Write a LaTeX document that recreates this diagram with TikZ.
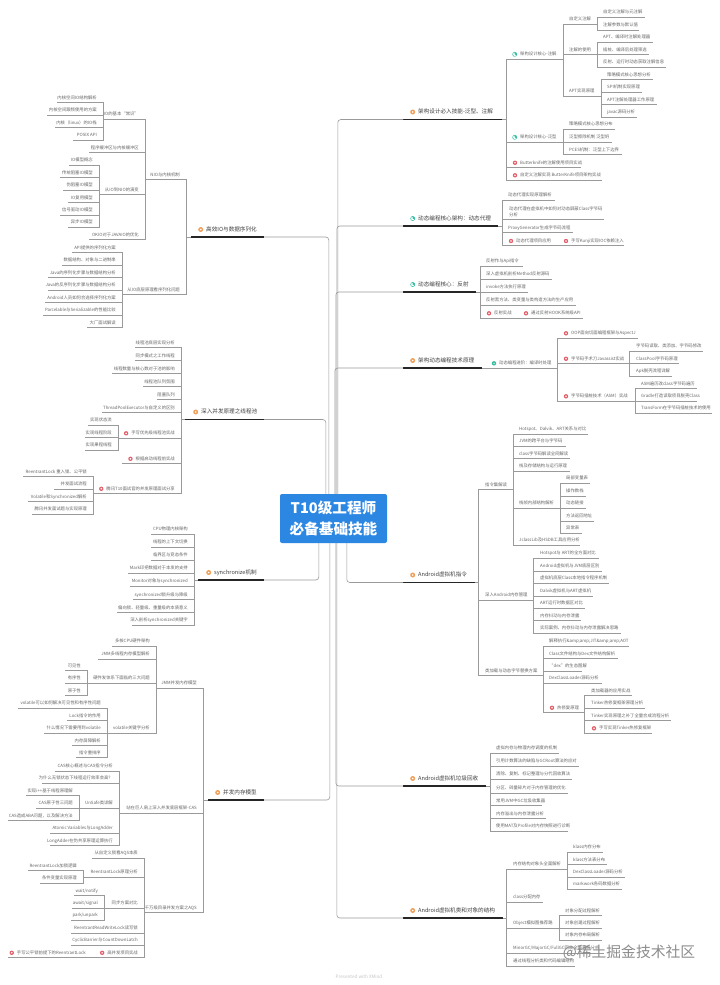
\documentclass[tikz,border=0pt]{standalone}
\usepackage{fontspec}
\setmainfont{Noto Sans CJK SC}
\definecolor{txtgray}{HTML}{666666}
\definecolor{lngray}{HTML}{9A9A9A}
\definecolor{icored}{HTML}{E2606A}
\definecolor{icoorange}{HTML}{F0A05A}
\definecolor{icoteal}{HTML}{35BFA0}
\definecolor{rootblue}{HTML}{2C87E3}
\tikzset{
  ln/.style={draw=lngray,line width=0.55pt},
  thickln/.style={draw=black!85,line width=1.3pt},
  trunk/.style={draw=lngray,line width=0.6pt,rounded corners=3pt},
  txt/.style={inner sep=0pt,text=txtgray,font=\fontsize{4.35}{5.2}\selectfont,text height=3.9pt,text depth=0.9pt},
  txtwrap/.style={inner sep=0pt,text=txtgray,font=\fontsize{4.35}{5.6}\selectfont,align=left},
  maintxt/.style={inner sep=0pt,text=black!75,font=\fontsize{5.6}{6.5}\selectfont,text height=4.9pt,text depth=1.1pt},
  rootbox/.style={fill=rootblue,rounded corners=2pt,minimum width=107pt,minimum height=49pt,inner sep=0pt,text=white,align=center,font=\fontsize{14.6}{21}\selectfont\bfseries},
}
% main branch: name, text x, thick start, thick end, spine x, y, text
\newcommand\MainN[7]{%
  \coordinate (#1a) at (#3,#6);\coordinate (#1t) at (#4,#6);\coordinate (#1b) at (#5,#6);
  \draw[ln] (#1a)--(#1b);\draw[thickln] (#1a)--(#1t);
  \node[maintxt,anchor=west] (#1) at (#2,#6-7.5) {#7};}
% right child: [text offset] name, parent, line end, y, text
\newcommand\RC[6][6]{%
  \coordinate (#2a) at (#3b |- 0,#5);\coordinate (#2b) at (#4,#5);
  \draw[ln] (#3b)--(#2a)--(#2b);
  \node[txt,anchor=west,xshift=#1pt,yshift=4.7pt] (#2) at (#2a) {#6};}
% left child
\newcommand\LC[5]{%
  \coordinate (#1a) at (#2b |- 0,#4);\coordinate (#1b) at (#3,#4);
  \draw[ln] (#2b)--(#1a)--(#1b);
  \node[txt,anchor=east,xshift=-6pt,yshift=4.7pt] (#1) at (#1a) {#5};}
\newcommand\IcoRed[1]{\fill[icored] ([xshift=-5pt]#1.west) circle (2.2pt);\fill[white] ([xshift=-5pt]#1.west) circle (0.9pt);}
\newcommand\IcoOrange[1]{\fill[icoorange] ([xshift=-5.3pt]#1.west) circle (2.5pt);\fill[white] ([xshift=-5.3pt]#1.west) circle (0.9pt);}
\newcommand\IcoTeal[1]{\draw[icoteal,line width=0.5pt,fill=white] ([xshift=-5.3pt]#1.west) circle (2.1pt);\fill[icoteal] ([xshift=-5.3pt]#1.west) -- ++(0pt,2.1pt) arc (90:-30:2.1pt) -- cycle;}
\newcommand\IcoGreen[1]{\fill[icoteal] ([xshift=-5pt]#1.west) circle (2.2pt);\fill[white] ([xshift=-5pt]#1.west) circle (0.7pt);}
\begin{document}
\begin{tikzpicture}[x=1pt,y=-1pt]
\useasboundingbox (0,0) rectangle (720,985);
\fill[white] (0,0) rectangle (720,985);
\node[rootbox] (root) at (333.5,518.5) {T10级工程师\\必备基础技能};

% ---------- right 1
\MainN{ma}{418}{403}{502}{506}{119.5}{架构设计必入技能-泛型、注解}\IcoOrange{ma}
\RC[14]{a1}{ma}{563}{59}{架构设计核心-注解}\IcoTeal{a1}
\RC{a11}{a1}{597}{24}{自定义注解}
\RC{a111}{a11}{645}{17}{自定义注解与元注解}
\RC{a112}{a11}{639}{30}{注解参数与默认值}
\RC{a12}{a1}{597}{54.5}{注解的使用}
\RC{a121}{a12}{653}{42}{APT、编译时注解处理器}
\RC{a122}{a12}{649}{54.5}{插桩、编译后处理筛选}
\RC{a123}{a12}{666}{67}{反射、运行时动态获取注解信息}
\RC{a13}{a1}{601}{96}{APT实现原理}
\RC{a131}{a13}{653}{79.5}{策略模式核心思想分析}
\RC{a132}{a13}{642}{92}{SPI机制实现原理}
\RC{a133}{a13}{657}{104.5}{APT注解处理器工作原理}
\RC{a134}{a13}{637}{117}{javac源码分析}
\RC[14]{a2}{ma}{563}{142}{架构设计核心-泛型}\IcoTeal{a2}
\RC{a21}{a2}{615}{129}{策略模式核心思想分布}
\RC{a22}{a2}{612}{142}{泛型擦除机制 泛型坍}
\RC{a23}{a2}{622}{154.5}{PCES机制：泛型上下边界}
\RC[14]{a3}{ma}{581}{167.5}{Butterknife的注解使用项目实战}\IcoRed{a3}
\RC[14]{a4}{ma}{602}{180}{自定义注解实现 ButterKnife项目架构实战}\IcoRed{a4}

% ---------- right 2
\MainN{mb}{418}{403}{498}{502}{226}{动态编程核心架构：动态代理}\IcoTeal{mb}
\RC{b1}{mb}{555}{200}{动态代理实现原理解析}
\coordinate (b2a) at (mbb |- 0,219);\coordinate (b2b) at (604,219);
\draw[ln] (mbb)--(b2a)--(b2b);
\node[txtwrap,anchor=south west,xshift=7pt,yshift=2pt] (b2) at (b2a) {动态代理在虚拟机中如何对动态屏蔽Class字节码\\分析};
\RC{b3}{mb}{573}{232.5}{ProxyGenerator生成字节码流程}
\RC[14]{b4}{mb}{557}{245.7}{动态代理项目应用}\IcoRed{b4}
\RC[14]{b5}{b4}{624}{245.7}{手写Kunji实现IOC依赖注入}\IcoRed{b5}

% ---------- right 3
\MainN{mc}{418}{403}{476}{480}{292}{动态编程核心：反射}\IcoTeal{mc}
\RC{c1}{mc}{523}{266}{反射作与Api指令}
\RC{c2}{mc}{552}{279}{深入虚拟机剖析Method反射源码}
\RC{c3}{mc}{528}{292}{invoke方法执行原理}
\RC{c4}{mc}{576}{305}{反射黑方法、类变量与类构造方法的生产应用}
\RC[14]{c5}{mc}{517}{318}{反射实战}\IcoRed{c5}
\RC[14]{c6}{c5}{583}{318}{通过反射HOOK系统级API}\IcoRed{c6}

% ---------- right 4
\MainN{md}{418}{403}{482}{482}{368}{架构动态编程技术原理}\IcoOrange{md}
\RC[17]{d1}{md}{557}{368}{动态编程进阶：编译时处理}\IcoGreen{d1}
\RC[14]{d11}{d1}{638}{338}{OOP面向切面编程框架与AspectJ}\IcoRed{d11}
\RC[14]{d12}{d1}{629}{363.5}{字节码手术刀Javassist实战}\IcoRed{d12}
\RC[7]{d121}{d12}{703}{351}{字节码读取、类添加、字节码修改}
\RC[7]{d122}{d12}{679}{363.5}{ClassPool字节码原理}
\RC[7]{d123}{d12}{672}{376}{Apk脱壳流程详解}
\RC[14]{d13}{d1}{635}{401}{字节码插桩技术（ASM）实战}\IcoRed{d13}
\RC{d131}{d13}{697}{388.5}{ASM遍历改class字节码遍历}
\RC{d132}{d13}{697}{401}{Gradle打造读取项目脱壳Class}
\RC{d133}{d13}{712}{413}{TransForm在字节码插桩技术的使用}

% ---------- right 5
\MainN{me}{418}{403}{475}{478}{582.5}{Android虚拟机指令}\IcoOrange{me}
\RC[7]{e1}{me}{513}{489.5}{指令集解读}
\RC{e11}{e1}{588}{434}{Hotspot、Dalvik、ART关系与对比}
\RC{e12}{e1}{566}{446}{JVM的跨平台与字节码}
\RC{e13}{e1}{570}{458.5}{class字节码解读全网解读}
\RC{e14}{e1}{570}{471}{栈及存储结构与运行原理}
\RC{e15}{e1}{560}{508}{栈帧内部结构解析}
\RC{e151}{e15}{590}{483}{局部变量表}
\RC{e152}{e15}{586}{496}{操作数栈}
\RC{e153}{e15}{586}{508}{动态链接}
\RC{e154}{e15}{594}{521}{方法返回地址}
\RC{e155}{e15}{582}{533}{异常表}
\RC{e16}{e1}{580}{545}{JclassLib及HSDB工具应用分析}
\RC[7]{e2}{me}{533}{600}{深入Android内存管理}
\RC[7]{e21}{e2}{599}{558}{Hotspot与 ART的全方面对比}
\RC[7]{e22}{e2}{602}{571}{Android虚拟机与JVM底层区别}
\RC[7]{e23}{e2}{609}{583}{虚拟机底层Class本地指令程序机制}
\RC[7]{e24}{e2}{593}{596}{Dalvik虚拟机与ART虚拟机}
\RC[7]{e25}{e2}{585}{608}{ART运行时数据区对比}
\RC[7]{e26}{e2}{581}{620.5}{内存抖动与内存泄露}
\RC[7]{e27}{e2}{621}{633}{实际案例、内存抖动与内存泄露解决思路}
\RC[7]{e3}{me}{543}{675.5}{类加载与动态字节替换方案}
\RC{e31}{e3}{629}{646}{解释执行\&amp;amp;JIT\&amp;amp;AOT}
\RC{e32}{e3}{618}{658.5}{Class文件结构与Dex文件结构解析}
\RC{e33}{e3}{582}{671}{“dex”的生态图解}
\RC{e34}{e3}{602}{683}{DexClassLoader源码分析}
\RC[14]{e35}{e3}{584}{712.5}{热修复原理}\IcoRed{e35}
\RC[7]{e351}{e35}{632}{695.5}{类加载器的应用实战}
\RC[7]{e352}{e35}{645}{708}{Tinker热修复框架原理分析}
\RC[7]{e353}{e35}{671}{720.5}{Tinker实现原理之补丁全量合成流程分析}
\RC[15]{e354}{e35}{652}{733}{手写实现Tinker热修复框架}\IcoRed{e354}

% ---------- right 6
\MainN{mf}{418}{403}{486}{490}{786}{Android虚拟机垃圾回收}\IcoOrange{mf}
\RC{f1}{mf}{559}{753}{虚拟内存与物理内存调度的机制}
\RC{f2}{mf}{579}{766}{引用计数算法的缺陷与GCRoot算法的应对}
\RC{f3}{mf}{572}{779}{清除、复制、标记整理与分代回收算法}
\RC{f4}{mf}{568}{793}{分区、碎量碎片对于内存管理的优化}
\RC{f5}{mf}{542}{805.5}{常用JVM中GC垃圾收集器}
\RC{f6}{mf}{546}{818.5}{内存溢出与内存泄露分析}
\RC{f7}{mf}{568}{831}{使用MAT及Profile对内存快照进行诊断}

% ---------- right 7
\MainN{mg}{418}{403}{503}{506}{918}{Android虚拟机类和对象的结构}\IcoOrange{mg}
\RC[7]{g1}{mg}{567}{869}{内存结构对象头全面解析}
\RC{g11}{g1}{603}{852}{klass内存分布}
\RC{g12}{g1}{607}{864.5}{klass方法表分布}
\RC{g13}{g1}{625}{877}{DexClassLoader源码分析}
\RC{g14}{g1}{622}{889}{markwork各码数据分析}
\RC[7]{g2}{mg}{543}{902}{class分配内存}
\RC[7]{g3}{mg}{559}{928}{Object模拟图推荐路}
\RC{g31}{g3}{602}{915.5}{对象分配过程解析}
\RC{g32}{g3}{602}{928}{对象创建过程解析}
\RC{g33}{g3}{602}{940}{对象内存布局解析}
\RC[7]{g4}{mg}{604}{953}{MinorGC/MajorGC/FullGC回收全面源码分析}
\RC[7]{g5}{mg}{575}{966}{通过线程分析类和代码编辑结构}

% ---------- left 1
\MainN{mh}{206}{264}{191}{186}{237}{高效IO与数据序列化}\IcoOrange{mh}
\LC{h1}{mh}{145}{179.5}{NIO与内核机制}
\LC{h11}{h1}{103}{119}{IO的基本“常识”}
\LC{h111}{h11}{57}{102.5}{内核空间IO结构解析}
\LC{h112}{h11}{47}{115}{内核空间跟频使用的方案}
\LC{h113}{h11}{55}{127.5}{内核（linux）的IO栈}
\LC{h114}{h11}{73}{140}{POSIX API}
\LC{h12}{h1}{89}{152.5}{程序缓冲区与内核缓冲区}
\LC{h13}{h1}{99}{194.5}{从IO到NIO的演变}
\LC{h131}{h13}{69}{165}{IO模型概念}
\LC{h132}{h13}{60}{177.5}{传统阻塞IO模型}
\LC{h133}{h13}{63}{190}{伪阻塞IO模型}
\LC{h134}{h13}{68}{202.5}{IO复用模型}
\LC{h135}{h13}{60}{215}{信号驱动IO模型}
\LC{h136}{h13}{68}{227}{异步IO模型}
\LC{h14}{h1}{89}{239.5}{OKIO对于JAVAIO的优化}
\LC{h2}{mh}{122}{294.5}{从IO底层原理看序列化问题}
\LC{h21}{h2}{72}{252.5}{API提供的序列化方案}
\LC{h22}{h2}{62}{265}{数据结构、对象与二进制串}
\LC{h23}{h2}{48}{277.5}{Java的序列化步骤与数据结构分析}
\LC{h24}{h2}{48}{290}{Java的反序列化步骤与数据结构分析}
\LC{h25}{h2}{45}{302.5}{Android人员如何合选择序列化方案}
\LC{h26}{h2}{43}{315}{Parcelable与Serializable的性能比较}
\LC{h27}{h2}{87}{327.5}{大厂面试解读}

% ---------- left 2
\MainN{mi}{201}{264}{185}{181}{419.5}{深入并发原理之线程池}\IcoOrange{mi}
\LC{i1}{mi}{135}{347.5}{线程池底层实现分析}
\LC{i2}{mi}{135}{360.5}{同步模式之工作线程}
\LC{i3}{mi}{112}{373.5}{线程数量与核心数对于池的影响}
\LC{i4}{mi}{143}{386.5}{线程池队列氛围}
\LC{i5}{mi}{157}{399.5}{阻塞队列}
\LC{i6}{mi}{102}{412.5}{ThreadPoolExecutor与自定义的区别}
\LC{i7}{mi}{118}{438}{手写优先级线程池实战}\IcoRed{i7}
\LC{i71}{i7}{88}{425}{实现状态流}
\LC{i72}{i7}{85}{437.5}{实现线程阶段}
\LC{i73}{i7}{85}{450}{实现果程线程}
\LC{i8}{mi}{122}{463.5}{根据启动线程前实战}\IcoRed{i8}
\LC{i9}{mi}{93}{493.5}{腾讯T10面试官的并发原理面试分享}\IcoRed{i9}
\LC{i91}{i9}{23}{476.5}{ReentrantLock 重入锁、公平锁}
\LC{i92}{i9}{54}{489}{并发面试流程}
\LC{i93}{i9}{28}{501.5}{Volatile和Synchronized解析}
\LC{i94}{i9}{32}{514}{腾讯并发面试题与实现原理}

% ---------- left 3
\MainN{mj}{214}{264}{198}{194}{580}{synchronize机制}\IcoOrange{mj}
\LC{j1}{mj}{151}{534}{CPU物理内核架构}
\LC{j2}{mj}{151}{547}{线程的上下文切换}
\LC{j3}{mj}{151}{560}{临界区与竞态条件}
\LC{j4}{mj}{128}{573}{Mark印把数据对于本发的支持}
\LC{j5}{mj}{130}{586}{Monitor对象与synchronized}
\LC{j6}{mj}{133}{599.5}{synchronized锁升级与降级}
\LC{j7}{mj}{117}{612.5}{偏向锁、轻量级、重量级的本质意义}
\LC{j8}{mj}{132}{625}{深入剖析synchronized关键字}

% ---------- left 4
\MainN{mk}{223}{264}{208}{203}{800}{并发内存模型}\IcoOrange{mk}
\LC{k1}{mk}{156}{688}{JMM并发内存模型}
\LC{k11}{k1}{112}{646}{多核CPU硬件架构}
\LC{k12}{k1}{98}{659}{JMM多线程内存模型解析}
\LC{k13}{k1}{87}{683}{硬件发体系下面临的三大问题}
\LC{k131}{k13}{65}{670.5}{可见性}
\LC{k132}{k13}{65}{683}{有序性}
\LC{k133}{k13}{65}{695.5}{原子性}
\LC{k14}{k1}{107}{733}{volatile关键字分析}
\LC{k141}{k14}{18}{708}{volatile可以如何解决可见性和有序性问题}
\LC{k142}{k14}{67}{720.5}{Lock指令的作用}
\LC{k143}{k14}{44}{733}{什么情况下需要用到volatile}
\LC{k144}{k14}{72}{745.5}{内存屏障解析}
\LC{k145}{k14}{76}{757.5}{指令重排序}
\LC{k2}{mk}{119}{813}{站在巨人肩上深入并发底层框架-CAS}
\LC{k21}{k2}{55}{771}{CAS核心概述与CAS指令分析}
\LC{k22}{k2}{42}{783}{为什么无锁状态下线程运行效率会高？}
\LC{k23}{k2}{79}{808}{UnSafe类详解}
\LC{k231}{k23}{26}{795.5}{实现i++基于线程原理解}
\LC{k232}{k23}{36}{808}{CAS原子性三问题}
\LC{k233}{k23}{8}{820.5}{CAS造成ABA问题，以及解决方法}
\LC{k24}{k2}{50}{833}{Atomic Variables与LongAdder}
\LC{k25}{k2}{50}{845.5}{LongAdder在伪共享原理运算执行}
\LC{k3}{mk}{144}{912.5}{千万级目录并发方案之AQS}
\LC{k31}{k3}{92}{858}{从自定义锁看AQS本质}
\LC{k32}{k3}{83}{877}{ReentrantLock原理分析}
\LC{k321}{k32}{28}{870.5}{ReentrantLock加锁逻辑}
\LC{k322}{k32}{40}{883}{条件变量实现原理}
\LC{k33}{k3}{104}{908}{同步方案对比}
\LC{k331}{k33}{74}{895.5}{wait/notify}
\LC{k332}{k33}{72}{908}{await/signal}
\LC{k333}{k33}{71}{920}{park/unpark}
\LC{k34}{k3}{71}{933}{ReentrantReadWriteLock读写锁}
\LC{k35}{k3}{71}{945}{CyclicBarrier与CountDownLatch}
\LC{k36}{k3}{92}{957.5}{高并发项目实战}\IcoRed{k36}
\LC{k37}{k36}{8}{957.5}{手写公平锁前提下的ReentrantLock}\IcoRed{k37}

% ---------- trunks from the central topic
\draw[trunk] ([xshift=58pt]root.north west) |- (maa);
\draw[trunk] ([xshift=57pt]root.north west) |- (mba);
\draw[trunk] ([xshift=56pt]root.north west) |- (mca);
\draw[trunk] ([xshift=55pt]root.north west) |- (mda);
\draw[trunk] ([xshift=67pt]root.south west) |- (mea);
\draw[trunk] ([xshift=56pt]root.south west) |- (mfa);
\draw[trunk] ([xshift=57pt]root.south west) |- (mga);
\draw[trunk] ([xshift=49pt]root.north west) |- (mha);
\draw[trunk] ([xshift=46pt]root.north west) |- (mia);
\draw[trunk] ([xshift=39pt]root.south west) |- (mja);
\draw[trunk] ([xshift=50pt]root.south west) |- (mka);

\node[text=black!45,inner sep=0pt,font=\fontsize{14.8}{16}\selectfont] (wm) at (629,952) {@稀土掘金技术社区};
\node[text=black!22,inner sep=0pt,font=\fontsize{4.6}{5}\selectfont] (xm) at (359,977) {Presented with XMind};
\end{tikzpicture}
\end{document}
